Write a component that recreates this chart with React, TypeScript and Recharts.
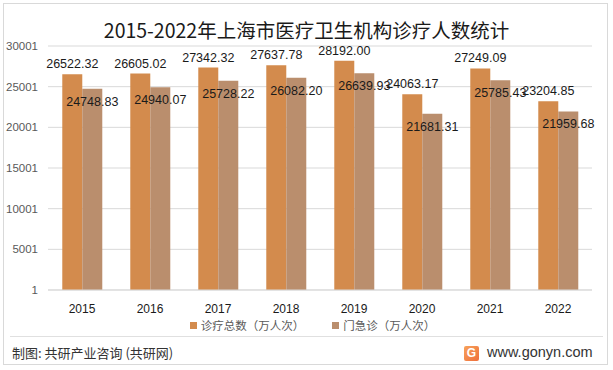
import React from 'react';
import { BarChart, Bar, XAxis, YAxis, CartesianGrid, LabelList } from 'recharts';

const years = ['2015', '2016', '2017', '2018', '2019', '2020', '2021', '2022'];
const totalVisits = [26522.32, 26605.02, 27342.32, 27637.78, 28192.0, 24063.17, 27249.09, 23204.85];
const emergencyVisits = [24748.83, 24940.07, 25728.22, 26082.2, 26639.93, 21681.31, 25785.43, 21959.68];
const yTicks = [1, 5001, 10001, 15001, 20001, 25001, 30001];
const seriesNames = ['诊疗总数（万人次）', '门急诊（万人次）'];
const title = '2015-2022年上海市医疗卫生机构诊疗人数统计';
const sourceText = '制图: 共研产业咨询 (共研网)';
const siteText = 'www.gonyn.com';

const COLOR_A = '#d38b4d';
const COLOR_B = '#ba8e6d';

const data = years.map((y, i) => ({ year: y, a: totalVisits[i], b: emergencyVisits[i] }));

const fmt = (v: number) => v.toFixed(2);

export default function App() {
  return (
    <div style={{ position: 'absolute', left: 0, top: 0, width: 613, height: 370, background: '#fff', overflow: 'hidden' }}>
      <div style={{ position: 'absolute', left: 3, top: 3, width: 605, height: 362, border: '1px solid #d9d9d9', boxSizing: 'border-box' }} />
      <div style={{ position: 'absolute', left: 0, top: 16, width: 613, textAlign: 'center', fontFamily: '"Noto Sans CJK SC", sans-serif', fontSize: 19.5, color: '#1a1a1a', lineHeight: '28px' }}>
        {title}
      </div>
      <div style={{ position: 'absolute', left: 0, top: 0 }}>
        <BarChart width={613} height={370} data={data} margin={{ top: 46, right: 21, bottom: 50, left: 8 }} barCategoryGap="21%" barGap={0}>
          <CartesianGrid vertical={false} stroke="#d9d9d9" />
          <XAxis dataKey="year" height={30} axisLine={{ stroke: '#d9d9d9' }} tickLine={false} tickMargin={8}
            tick={{ fontSize: 12, fill: '#1a1a1a', fontFamily: '"Liberation Sans", sans-serif' }} />
          <YAxis width={40} domain={[1, 30001]} ticks={yTicks} axisLine={false} tickLine={false} tickMargin={4}
            tick={{ fontSize: 11.5, fill: '#595959', fontFamily: '"Liberation Sans", sans-serif' }} />
          <Bar dataKey="a" fill={COLOR_A} isAnimationActive={false}>
            <LabelList dataKey="a" position="top" offset={6} formatter={fmt}
              style={{ fontSize: 12.5, fill: '#1a1a1a', fontFamily: '"Liberation Sans", sans-serif' }} />
          </Bar>
          <Bar dataKey="b" fill={COLOR_B} isAnimationActive={false}>
            <LabelList dataKey="b" position="insideTop" offset={8} formatter={fmt}
              style={{ fontSize: 12.5, fill: '#1a1a1a', fontFamily: '"Liberation Sans", sans-serif' }} />
          </Bar>
        </BarChart>
      </div>
      <div style={{ position: 'absolute', left: 0, top: 316, width: 613, display: 'flex', justifyContent: 'center', gap: 28, fontFamily: '"Noto Sans CJK SC", sans-serif', fontSize: 11.5, color: '#595959', lineHeight: '18px', paddingLeft: 12, boxSizing: 'border-box' }}>
        {seriesNames.map((n, i) => (
          <div key={n} style={{ display: 'flex', alignItems: 'center' }}>
            <span style={{ display: 'inline-block', width: 7, height: 7, background: i === 0 ? COLOR_A : COLOR_B, marginRight: 4 }} />
            <span>{n}</span>
          </div>
        ))}
      </div>
      <div style={{ position: 'absolute', left: 10, top: 336, width: 593, height: 1, background: '#e0e0e0' }} />
      <div style={{ position: 'absolute', left: 12, top: 343, fontFamily: '"Noto Sans CJK SC", sans-serif', fontSize: 13, color: '#333', lineHeight: '20px' }}>
        {sourceText}
      </div>
      <div style={{ position: 'absolute', left: 464, top: 346, width: 15, height: 15, borderRadius: 2, background: 'linear-gradient(135deg, #f7a25a, #ef6f3c)', color: '#fff', fontFamily: '"Liberation Sans", sans-serif', fontWeight: 'bold', fontSize: 12, lineHeight: '15px', textAlign: 'center' }}>
        G
      </div>
      <div style={{ position: 'absolute', left: 487, top: 342, fontFamily: '"Liberation Sans", sans-serif', fontSize: 14.5, color: '#333', lineHeight: '20px' }}>
        {siteText}
      </div>
    </div>
  );
}
